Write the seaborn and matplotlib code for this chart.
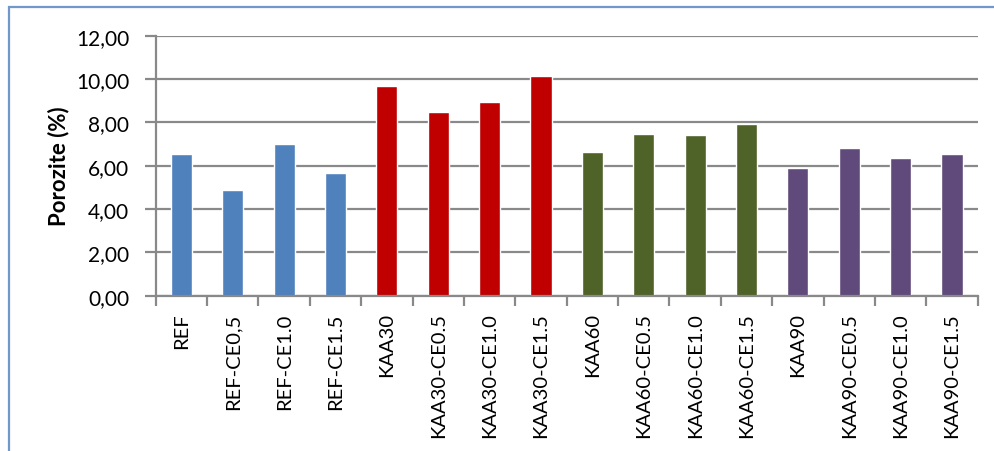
import matplotlib
matplotlib.use("Agg")
import matplotlib.pyplot as plt
from matplotlib.patches import Rectangle
from matplotlib.ticker import FuncFormatter, FixedLocator
import seaborn as sns
import pandas as pd
import numpy as np

# Sample names, measured porosity (%) and mix group
samples = ["REF", "REF-CE0,5", "REF-CE1.0", "REF-CE1.5",
           "KAA30", "KAA30-CE0.5", "KAA30-CE1.0", "KAA30-CE1.5",
           "KAA60", "KAA60-CE0.5", "KAA60-CE1.0", "KAA60-CE1.5",
           "KAA90", "KAA90-CE0.5", "KAA90-CE1.0", "KAA90-CE1.5"]
porosity = [6.54, 4.88, 7.00, 5.66,
            9.68, 8.48, 8.94, 10.14,
            6.63, 7.46, 7.42, 7.92,
            5.89, 6.82, 6.35, 6.54]
groups = ["REF"] * 4 + ["KAA30"] * 4 + ["KAA60"] * 4 + ["KAA90"] * 4
group_colors = {"REF": "#4F81BD", "KAA30": "#C00000",
                "KAA60": "#4F6228", "KAA90": "#604A7B"}
y_ticks = [0, 2, 4, 6, 8, 10, 12]

df = pd.DataFrame({"sample": samples, "porosity": porosity, "group": groups})

sns.set_theme(style="white")
plt.rcParams["font.family"] = ["Lato", "DejaVu Sans"]

W, H = 994, 452
fig = plt.figure(figsize=(W / 100, H / 100), dpi=100)
ax = fig.add_axes([155.7 / W, 1 - 296.7 / H, 822 / W, 260 / H])

sns.barplot(data=df, x="sample", y="porosity", hue="group",
            palette=group_colors, dodge=False, width=0.41,
            legend=False, ax=ax, saturation=1)

grid_col = "#898989"
ax.set_ylim(0, 12)
ax.set_xlim(-0.5, len(samples) - 0.5)
ax.set_yticks(y_ticks)
ax.yaxis.set_major_formatter(FuncFormatter(lambda v, p: f"{v:.2f}".replace(".", ",")))
ax.yaxis.grid(True, color=grid_col, linewidth=1.6)
ax.set_axisbelow(True)

# category labels centred on bars, tick marks on category boundaries
ax.set_xticks(np.arange(len(samples)))
ax.set_xticklabels(samples, rotation=90, fontsize=14.5, color="#000000")
ax.xaxis.set_minor_locator(FixedLocator(np.arange(len(samples) + 1) - 0.5))
ax.tick_params(axis="x", which="major", length=0, pad=12)
ax.tick_params(axis="x", which="minor", length=7, width=1.6, color=grid_col,
               direction="out", bottom=True)
ax.tick_params(axis="y", length=8, width=1.6, color=grid_col, direction="out",
               pad=11, labelsize=15, labelcolor="#000000", left=True)

for side in ["top", "right"]:
    ax.spines[side].set_visible(False)
for side in ["left", "bottom"]:
    ax.spines[side].set_color(grid_col)
    ax.spines[side].set_linewidth(1.6)

ax.set_xlabel("")
ax.set_ylabel("")
fig.text(59 / W, 1 - 166.5 / H, "Porozite (%)", rotation=90, ha="center",
         va="center", fontsize=16, fontweight="bold", color="#000000")

# chart frame
fig.patches.append(Rectangle((8.5 / W, -0.1), 1.2, 1 - 7.5 / H + 0.1,
                             transform=fig.transFigure, fill=False,
                             edgecolor="#7098CC", linewidth=1.6))

fig.savefig("out.png", dpi=100)
